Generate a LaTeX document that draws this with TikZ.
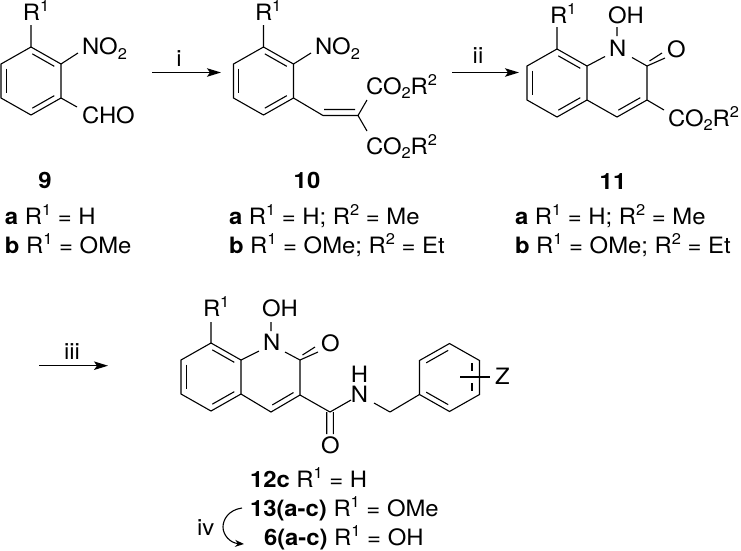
\documentclass[tikz,border=0pt]{standalone}
\usepackage{fontspec}
\setmainfont[FakeStretch=1.06]{TeX Gyre Heros}
\usetikzlibrary{calc,arrows.meta}
\newcommand{\sbs}[1]{\raisebox{-4.5pt}{\fontsize{15.5}{15.5}\selectfont #1}}
\newcommand{\sps}[1]{\raisebox{9pt}{\fontsize{15.5}{15.5}\selectfont #1}}
\newcommand{\dbl}[3]{\draw[bond,shorten <=1.5pt,shorten >=1.5pt] ($(#2)!.18!(#1)$) -- ($(#3)!.18!(#1)$);}
% hexagon with named vertices: prefix, cx, cy
\newcommand{\hexa}[3]{%
 \coordinate (#1c) at (#2,#3);
 \coordinate (#1t) at (#2,#3-34);
 \coordinate (#1ur) at (#2+30,#3-17);
 \coordinate (#1lr) at (#2+30,#3+17);
 \coordinate (#1b) at (#2,#3+34);
 \coordinate (#1ll) at (#2-30,#3+17);
 \coordinate (#1ul) at (#2-30,#3-17);
 \draw[bond,line join=miter] (#1t)--(#1ur)--(#1lr)--(#1b)--(#1ll)--(#1ul)--cycle;}
\tikzset{
 bond/.style={line width=1.1pt,black},
 txt/.style={anchor=base west,inner sep=0pt,outer sep=0pt,font=\fontsize{22.5}{27}\selectfont},
 ctr/.style={txt,anchor=base},
 rxn/.style={line width=1.1pt,-{Stealth[length=14pt,width=8.5pt,inset=3pt]}},
}
\begin{document}
\begin{tikzpicture}[x=1pt,y=-1pt]
\useasboundingbox (0,0) rectangle (741,550);
% ---- 9
\hexa{A}{31}{81}
\dbl{Ac}{At}{Aur}\dbl{Ac}{Alr}{Ab}\dbl{Ac}{Aul}{All}
\node[txt] (a1) at (23,20) {R\sps{1}};
\node[txt] (a2) at (82,54.5) {NO\sbs{2}};
\node[txt] (a3) at (82,123) {CHO};
\coordinate (a1e) at (31,25);\coordinate (a2e) at (78,53);\coordinate (a3e) at (77,107);
\draw[bond] (At)--(a1e) (Aur)--(a2e) (Alr)--(a3e);
% arrow i
\coordinate (r1s) at (152,72.5);\coordinate (r1e) at (221,72.5);
\draw[rxn] (r1s)--(r1e);
\node[ctr] (ri) at (179,66) {i};
% ---- 10
\hexa{B}{263.5}{81}
\dbl{Bc}{Bt}{Bur}\dbl{Bc}{Blr}{Bb}\dbl{Bc}{Bul}{Bll}
\node[txt] (b1) at (255,20) {R\sps{1}};
\node[txt] (b2) at (315,54.5) {NO\sbs{2}};
\coordinate (b1e) at (263.5,25);\coordinate (b2e) at (311,53);
\draw[bond] (Bt)--(b1e) (Bur)--(b2e);
\coordinate (v1) at (323,115.5);\coordinate (v2) at (358,115.5);
\coordinate (v1i) at (324,109.5);\coordinate (v2i) at (355,109.5);
\coordinate (c1e) at (367,100);\coordinate (c2e) at (367,131);
\draw[bond] (Blr)--(v1)--(v2)--(c1e) (v2)--(c2e) (v1i)--(v2i);
\node[txt] (b3) at (366,94) {CO\sbs{2}R\sps{2}};
\node[txt] (b4) at (366,154) {CO\sbs{2}R\sps{2}};
% arrow ii
\coordinate (r2s) at (452,72.5);\coordinate (r2e) at (519,72.5);
\draw[rxn] (r2s)--(r2e);
\node[ctr] (rii) at (478,63) {ii};
% ---- 11
\hexa{C}{557}{83}
\dbl{Cc}{Ct}{Cur}\dbl{Cc}{Clr}{Cb}\dbl{Cc}{Cul}{Cll}
\coordinate (Dc) at (617,83);\coordinate (Dn) at (617,49);\coordinate (D2) at (647,66);
\coordinate (D3) at (647,100);\coordinate (D4) at (617,117);
\dbl{Dc}{D3}{D4}
\coordinate (Dn1) at (605,56.5);\coordinate (Dn2) at (632,57.5);
\coordinate (Dh1) at (617,27);\coordinate (Dh2) at (617,36);
\coordinate (Do1) at (665,58);\coordinate (Do2) at (662,53);\coordinate (Do0) at (649.5,61);
\coordinate (De) at (664,110);\coordinate (Dr) at (557,27);
\draw[bond] (Cur)--(Dn1) (Dn2)--(D2)--(D3)--(D4)--(Clr) (D2)--(Do1) (Do0)--(Do2) (Dh1)--(Dh2) (D3)--(De) (Ct)--(Dr);
\node[txt] (c1) at (550,23) {R\sps{1}};
\node[txt] (c2) at (608,23) {OH};
\node[txt] (c3) at (609,56) {N};
\node[txt] (c4) at (667,57) {O};
\node[txt] (c5) at (668,126) {CO\sbs{2}R\sps{2}};
% labels row
\node[ctr] (l9) at (45,188) {\textbf{9}};
\node[txt] (l9a) at (5,224) {\textbf{a} R\sps{1} = H};
\node[txt] (l9b) at (5,253) {\textbf{b} R\sps{1} = OMe};
\node[ctr] (l10) at (307,188) {\textbf{10}};
\node[txt] (l10a) at (229,224) {\textbf{a} R\sps{1} = H; R\sps{2} = Me};
\node[txt] (l10b) at (229,253) {\textbf{b} R\sps{1} = OMe; R\sps{2} = Et};
\node[ctr] (l11) at (613,189) {\textbf{11}};
\node[txt] (l11a) at (515,224) {\textbf{a} R\sps{1} = H; R\sps{2} = Me};
\node[txt] (l11b) at (515,253) {\textbf{b} R\sps{1} = OMe; R\sps{2} = Et};
% arrow iii
\coordinate (r3s) at (39,365.7);\coordinate (r3e) at (108,365.7);
\draw[rxn] (r3s)--(r3e);
\node[ctr] (riii) at (72,359) {iii};
% ---- 12
\hexa{E}{211}{377}
\dbl{Ec}{Et}{Eur}\dbl{Ec}{Elr}{Eb}\dbl{Ec}{Eul}{Ell}
\coordinate (Fc) at (271,377);\coordinate (F2) at (300,360);\coordinate (F3) at (300,395);\coordinate (F4) at (271,412);
\dbl{Fc}{F3}{F4}
\coordinate (Fn1) at (259,351);\coordinate (Fn2) at (285,352);
\coordinate (Fh1) at (271,322);\coordinate (Fh2) at (271,331);
\coordinate (Fo1) at (318,352);\coordinate (Fo2) at (315,347);\coordinate (Fo0) at (302.5,355);
\coordinate (Fr) at (211,322);
\coordinate (G) at (330,412);\coordinate (Gn) at (351,400);
\coordinate (Ga1) at (326.7,412);\coordinate (Ga2) at (326.7,434);\coordinate (Gb1) at (333.3,412);\coordinate (Gb2) at (333.3,434);
\coordinate (Gn2) at (374,403);\coordinate (Gm) at (390,412);
\draw[bond] (Eur)--(Fn1) (Fn2)--(F2)--(F3)--(F4)--(Elr) (F2)--(Fo1) (Fo0)--(Fo2) (Et)--(Fr) (Fh1)--(Fh2);
\draw[bond] (F3)--(G)--(Gn) (Ga1)--(Ga2) (Gb1)--(Gb2) (Gn2)--(Gm);
\node[txt] (e1) at (203,316) {R\sps{1}};
\node[txt] (e2) at (262,316) {OH};
\node[txt] (e3) at (263,350) {N};
\node[txt] (e4) at (321,351) {O};
\node[txt,anchor=center,align=center,font=\fontsize{22.5}{20}\selectfont] (e5) at (359.5,384.5) {H\\N};
\node[txt] (e7) at (321,453) {O};
% benzyl
\hexa{H}{449.5}{377.5}
\dbl{Hc}{Hul}{Ht}\dbl{Hc}{Hll}{Hb}
\draw[bond] (Gm)--(Hll);
\coordinate (Hi1) at (472,363);\coordinate (Hi2) at (472,371);\coordinate (Hi3) at (472,383);\coordinate (Hi4) at (472,391);
\coordinate (Hz1) at (460,377);\coordinate (Hz2) at (490,377);
\draw[bond] (Hi1)--(Hi2) (Hi3)--(Hi4) (Hz1)--(Hz2);
\node[txt] (e8) at (495,384) {Z};
% bottom labels
\node[txt] (l12) at (250,487) {\textbf{12c} R\sps{1} = H};
\node[txt] (l13) at (250,516) {\textbf{13(a-c)} R\sps{1} = OMe};
\node[txt] (l6) at (264,545) {\textbf{6(a-c)} R\sps{1} = OH};
\node[txt] (riv) at (197,535) {iv};
\coordinate (cs) at (242,508);\coordinate (ce) at (244,544);
\draw[line width=1.1pt,-{Stealth[length=9pt,width=7pt]}] (cs) .. controls (228,510) and (223,520) .. (223,527) .. controls (223,535) and (230,543) .. (ce);
\end{tikzpicture}
\end{document}
